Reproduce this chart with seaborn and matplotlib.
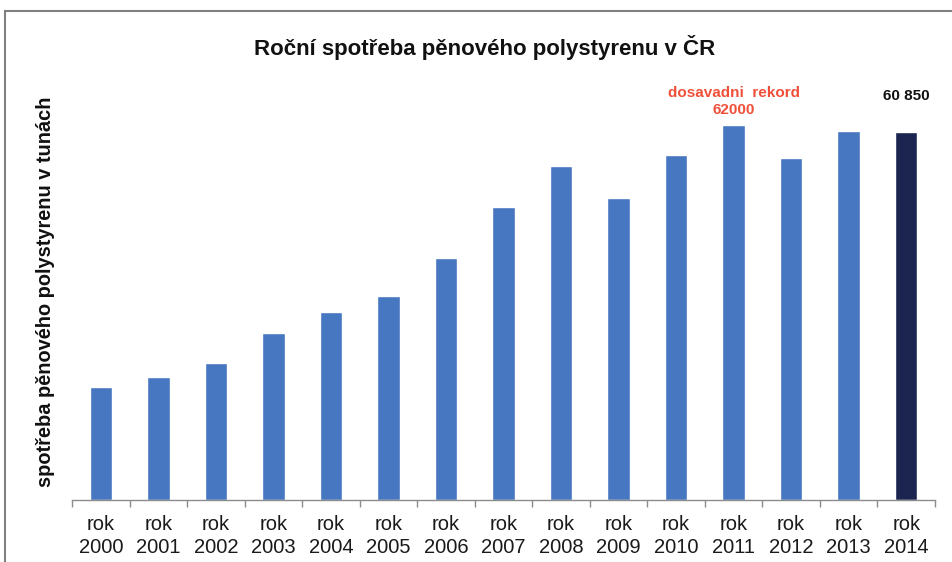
import matplotlib
matplotlib.use("Agg")
import matplotlib.pyplot as plt
import seaborn as sns
from matplotlib.patches import Rectangle
from matplotlib.ticker import FixedLocator

years = ["2000", "2001", "2002", "2003", "2004", "2005", "2006", "2007",
         "2008", "2009", "2010", "2011", "2012", "2013", "2014"]
values = [18600, 20300, 22550, 27600, 31050, 33700, 40050, 48400,
          55200, 49950, 57000, 62000, 56500, 61050, 60850]
tick_labels = ["rok\n" + y for y in years]
title = "Roční spotřeba pěnového polystyrenu v ČR"
ylabel = "spotřeba pěnového polystyrenu v tunách"
record_text = "dosavadni  rekord\n62000"
last_text = "60 850"

sns.set_theme(style="white")
plt.rcParams["font.family"] = ["Liberation Sans", "DejaVu Sans"]

fig = plt.figure(figsize=(9.52, 5.62), dpi=100)
W, H = 952, 562
ax = fig.add_axes([72 / W, (H - 499.5) / H, (935 - 72) / W, (499.5 - 100) / H])

palette = ["#4677c0"] * 14 + ["#1b2550"]
sns.barplot(x=tick_labels, y=values, hue=tick_labels, palette=palette,
            legend=False, width=0.39, ax=ax, saturation=1)

ax.set_xlim(-0.5, 14.5)
ax.set_ylim(0, 399.5 * 62000 / 374.5)
ax.set_yticks([])
ax.set_ylabel("")
ax.set_xlabel("")
for s in ["top", "right", "left"]:
    ax.spines[s].set_visible(False)
ax.spines["bottom"].set_color("#8c8c8c")
ax.spines["bottom"].set_linewidth(1.0)
ax.tick_params(axis="x", which="major", length=0, pad=11, labelsize=14.5,
               colors="#1a1a1a")
ax.xaxis.set_minor_locator(FixedLocator([i - 0.5 for i in range(16)]))
ax.tick_params(axis="x", which="minor", length=5, width=1.0, color="#8c8c8c",
               bottom=True)
for t in ax.get_xticklabels():
    t.set_linespacing(1.3)

# annotations
ax.text(11, 62000 + 1400, record_text, ha="center", va="bottom",
        color="#f0503a", fontsize=11, fontweight="bold", linespacing=1.25)
ax.text(14, 60850 + 4800, last_text, ha="center", va="bottom",
        color="#111111", fontsize=11, fontweight="bold")

fig.text(484.5 / W, 1 - 47 / H, title, ha="center", va="center",
         fontsize=16, fontweight="bold", color="#111111")
fig.text(46 / W, 1 - 292 / H, ylabel, ha="center", va="center",
         rotation=90, fontsize=14.4, fontweight="bold", color="#111111")

# outer frame
fig.patches.append(Rectangle((5 / W, -0.1), 1.2, 1 - 10.5 / H + 0.1,
                             transform=fig.transFigure, fill=False,
                             edgecolor="#7f7f7f", linewidth=1.5))

fig.savefig("out.png", dpi=100)
